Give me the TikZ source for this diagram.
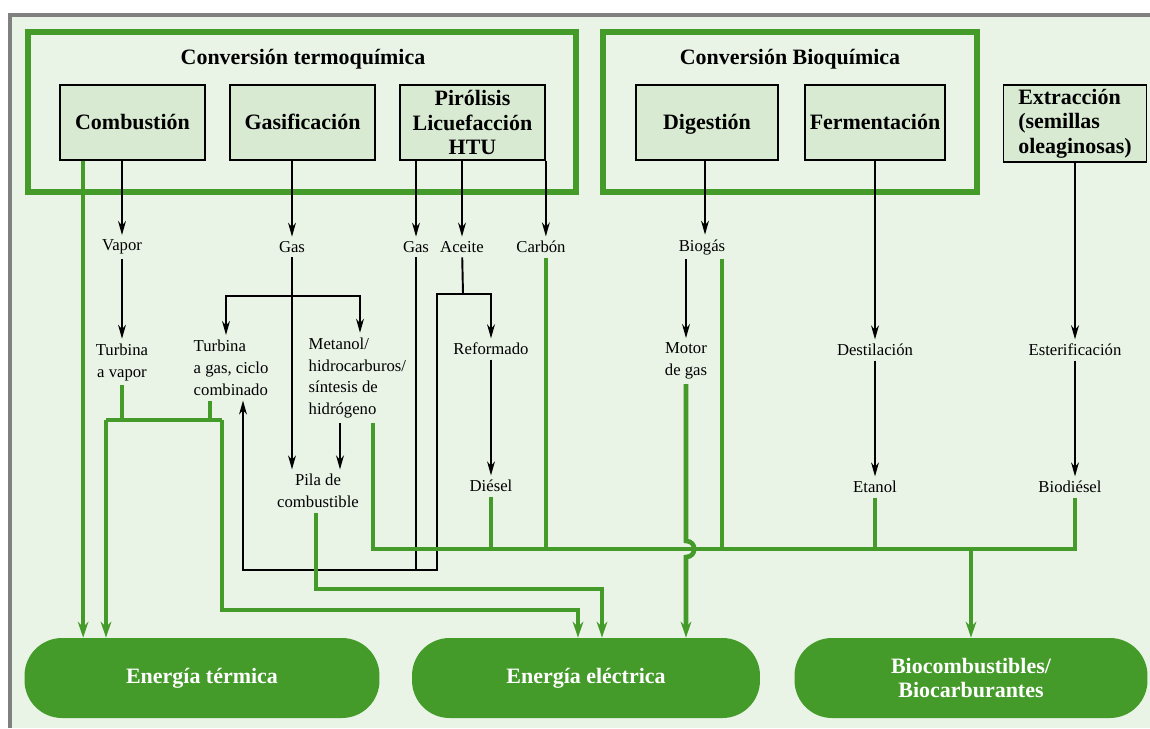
\documentclass[tikz,border=0pt]{standalone}
\usepackage{fontspec}
\setmainfont{Liberation Serif}
\usetikzlibrary{arrows.meta,calc}
\definecolor{gr}{RGB}{68,155,42}
\definecolor{bg}{RGB}{233,244,231}
\definecolor{boxfill}{RGB}{217,234,211}
\definecolor{framegray}{RGB}{128,128,128}
\begin{document}
\begin{tikzpicture}[x=0.02cm,y=-0.02cm,
    proc/.style={draw,line width=1pt,fill=boxfill,minimum width=2.9cm,minimum height=1.5cm,
      font=\fontsize{12.5}{14}\selectfont\bfseries,align=center,inner sep=1pt},
    onel/.style={text height=0.9em,text depth=0.1em},
    grp/.style={draw=gr,line width=3.2pt},
    ttl/.style={font=\fontsize{12.5}{14}\selectfont\bfseries},
    lbl/.style={font=\fontsize{9.5}{12.5}\selectfont,inner sep=2.5pt},
    arr/.style={-{Stealth[length=8pt,width=4.5pt]},line width=0.7pt},
    gline/.style={draw=gr,line width=2.6pt},
    garr/.style={gline,-{Stealth[length=9pt,width=6pt]}},
    energia/.style={fill=gr,rounded corners=0.75cm,text=white,minimum height=1.6cm,
      font=\fontsize{12.5}{14}\selectfont\bfseries,align=center}]
  \useasboundingbox (0,0) rectangle (1150,728);
  % marco
  \fill[bg] (10,15) rectangle (1150,728);
  \draw[framegray,line width=1.8pt] (10,728) -- (10,15) -- (1150,15);
  % grupos de conversion
  \draw[grp] (28,32) rectangle (576,192);
  \draw[grp] (603,32) rectangle (977,192);
  \node[ttl] (ttermo) at (303,59) {Conversión termoquímica};
  \node[ttl] (tbio) at (790,59) {Conversión Bioquímica};
  % procesos
  \node[proc,onel] (comb) at (132.5,122.5) {Combustión};
  \node[proc,onel] (gasi) at (302.5,122.5) {Gasificación};
  \node[proc] (piro) at (472.5,122.5) {Pirólisis\\Licuefacción\\HTU};
  \node[proc,onel,minimum width=2.84cm] (dige) at (707,122.5) {Digestión};
  \node[proc,onel,minimum width=2.8cm] (ferm) at (875,122.5) {Fermentación};
  \node[proc,minimum width=2.86cm,minimum height=1.54cm,align=left] (extr) at (1075,123.5)
    {Extracción\\(semillas\\oleaginosas)};
  % productos intermedios
  \node[lbl] (vapor) at (122,247) {Vapor};
  \node[lbl] (gas1) at (292,247) {Gas};
  \node[lbl] (gas2) at (416,247) {Gas};
  \node[lbl] (aceite) at (462,247) {Aceite};
  \node[lbl] (carbon) at (541,247) {Carbón};
  \node[lbl] (biogas) at (702,247) {Biogás};
  \node[lbl,align=center] (tvap) at (122,362) {Turbina\\a vapor};
  \node[lbl,align=left,anchor=west] (tgas) at (189,368) {Turbina\\a gas, ciclo\\combinado};
  \node[lbl,align=left,anchor=west] (meta) at (304,378) {Metanol/\\hidrocarburos/\\síntesis de\\hidrógeno};
  \node[lbl] (refo) at (491,349) {Reformado};
  \node[lbl,align=center] (motor) at (686,361) {Motor\\de gas};
  \node[lbl] (dest) at (875,350) {Destilación};
  \node[lbl] (ester) at (1075,350) {Esterificación};
  \node[lbl,align=center] (pila) at (318,491) {Pila de\\combustible};
  \node[lbl] (diesel) at (491,486) {Diésel};
  \node[lbl] (etanol) at (875,487) {Etanol};
  \node[lbl] (biodiesel) at (1070,487) {Biodiésel};
  % destinos
  \node[energia,minimum width=7.1cm] (eterm) at (202,678) {Energía térmica};
  \node[energia,minimum width=6.96cm] (eelec) at (586,678) {Energía eléctrica};
  \node[energia,minimum width=7.06cm] (ebio) at (971,678) {Biocombustibles/\\Biocarburantes};
  \coordinate (split) at (292,296);
  \coordinate (asplit) at (463,294);
  \coordinate (loop) at (243,570);
  \coordinate (tbar) at (106,420);
  \coordinate (tbar2) at (222,420);
  \coordinate (cl) at (373,549);
  \coordinate (cr) at (1075,549);
  \coordinate (mp) at (340,0);
  % flechas negras
  \draw[arr] (comb.south -| vapor) -- (vapor);
  \draw[arr] (gasi.south -| gas1) -- (gas1);
  \draw[arr] (piro.south -| gas2) -- (gas2);
  \draw[arr,line width=1.1pt] (piro.south -| aceite) -- (aceite);
  \draw[arr,line width=0.9pt] (piro.south east) -- (piro.south east |- carbon.north);
  \draw[arr] (dige.south -| 705,0) -- (biogas.north -| 705,0);
  \draw[arr] (ferm.south) -- (dest);
  \draw[arr,line width=1.1pt] (extr.south) -- (ester);
  \draw[arr] (vapor) -- (tvap);
  \draw[arr] (gas1) -- (gas1 |- pila.north);
  \draw[arr] (split) -| (meta.north -| 360,0);
  \draw[arr] (split) -| (226,335);
  \draw[arr,line width=1.1pt] (meta.south -| mp) -- (pila.north -| mp);
  \draw[arr] (gas2) -- (gas2 |- loop) -- (loop) -- (loop |- tgas.south);
  \draw[line width=1.1pt] (aceite) -- (asplit);
  \draw[line width=0.8pt] (asplit) -| (437,570) -- (loop);
  \draw[arr] (asplit) -| (refo);
  \draw[arr] (refo) -- (diesel);
  \draw[arr] (biogas.south -| motor) -- (motor);
  \draw[arr] (dest) -- (etanol);
  \draw[arr] (ester) -- (ester |- biodiesel.north);
  % lineas verdes
  \draw[garr] ($(comb.south west)+(24,0)$) coordinate (c1) -- (c1 |- eterm.north);
  \draw[gline] (tvap.south) -- (tvap.south |- tbar);
  \draw[gline] (tgas.south -| 210,0) -- (tbar2 -| 210,0);
  \draw[gline] (tbar) -- (tbar2);
  \draw[garr] (tbar) -- (tbar |- eterm.north);
  \draw[garr] (tbar2) -- (222,610) -| ($(eelec.north)+(-8,0)$);
  \draw[garr] (pila.south -| 316,0) -- (316,589) -| ($(eelec.north)+(16,0)$);
  \draw[gline] (meta.south -| cl) -- (cl) -- (cr) -- (biodiesel.south -| cr);
  \draw[gline] (diesel.south) -- (diesel.south |- cl);
  \draw[gline] (carbon.south -| piro.south east) -- (piro.south east |- cl);
  \draw[gline] ($(biogas.south)+(20,0)$) coordinate (b1) -- (b1 |- cl);
  \draw[gline] (etanol.south) -- (etanol.south |- cl);
  \draw[garr] (ebio.north |- cl) -- (ebio.north);
  \draw[garr] (motor.south) -- ($(motor.south |- cl)+(0,-8)$)
    .. controls +(11,0) and +(11,0) .. ($(motor.south |- cl)+(0,8)$) -- (motor.south |- eelec.north);
\end{tikzpicture}
\end{document}
